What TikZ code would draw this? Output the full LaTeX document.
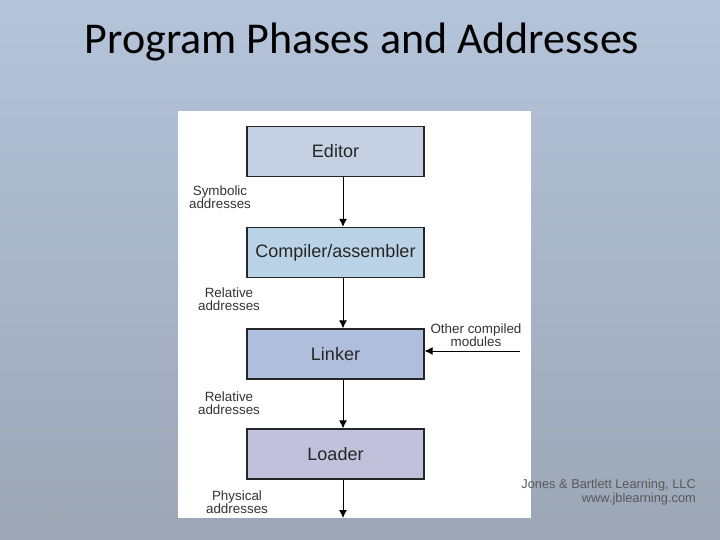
\documentclass[tikz,border=0pt]{standalone}
\usepackage{fontspec}
\setmainfont{Liberation Sans}
\newfontfamily\titlefont{Carlito}
\usetikzlibrary{positioning,arrows.meta}
\definecolor{bgtop}{HTML}{B4C4DA}
\definecolor{bgbot}{HTML}{9CA6B6}
\definecolor{editorc}{HTML}{C5D1E3}
\definecolor{compc}{HTML}{B9D2E6}
\definecolor{linkc}{HTML}{AEBEDC}
\definecolor{loadc}{HTML}{C1C1DC}
\tikzset{
  phase/.style={draw=black!85,line width=1.3pt,minimum width=177pt,minimum height=50pt,font=\fontsize{18}{20}\selectfont,text=black!85},
  lbl/.style={align=center,font=\fontsize{13.4}{13.5}\selectfont,inner sep=0pt,text=black!80},
  flow/.style={-{Latex[length=8pt,width=8pt]},line width=1pt}
}
\begin{document}
\begin{tikzpicture}[x=1pt,y=-1pt]
	\shade[top color=bgtop,bottom color=bgbot] (0,0) rectangle (720,540);
	\useasboundingbox (0,0) rectangle (720,540);
	\node[font=\titlefont\fontsize{44}{48}\selectfont] (title) at (362,42) {Program Phases and Addresses};
	\fill[white] (178,111) rectangle (531,518);
	\node[phase,fill=editorc] (editor) at (335.5,151.5) {Editor};
	\node[phase,fill=compc] (comp) at (335.5,252.5) {Compiler/assembler};
	\node[phase,fill=linkc] (linker) at (335.5,354) {Linker};
	\node[phase,fill=loadc] (loader) at (335.5,454) {Loader};
	\coordinate (out) at (343,518);
	\coordinate (other) at (520,351);
	\draw[flow] (editor.south -| out) -- (comp.north -| out);
	\draw[flow] (comp.south -| out) -- (linker.north -| out);
	\draw[flow] (linker.south -| out) -- (loader.north -| out);
	\draw[flow] (loader.south -| out) -- (out);
	\draw[flow] (other) -- (linker.east |- other);
	\node[lbl] (sym) at (220,197) {Symbolic\\addresses};
	\node[lbl] (rel1) at (229,299) {Relative\\addresses};
	\node[lbl] (rel2) at (229,403) {Relative\\addresses};
	\node[lbl] (phys) at (237,502) {Physical\\addresses};
	\node[lbl] (omod) at (476,335) {Other compiled\\modules};
	\node[align=right,text=black!65,font=\fontsize{12.8}{14}\selectfont,inner sep=0pt,anchor=east] (jb) at (696,492) {Jones \& Bartlett Learning, LLC\\www.jblearning.com};
	\node[text=black!35,font=\titlefont\fontsize{11}{12}\selectfont] (num) at (48,515) {10};
\end{tikzpicture}
\end{document}
